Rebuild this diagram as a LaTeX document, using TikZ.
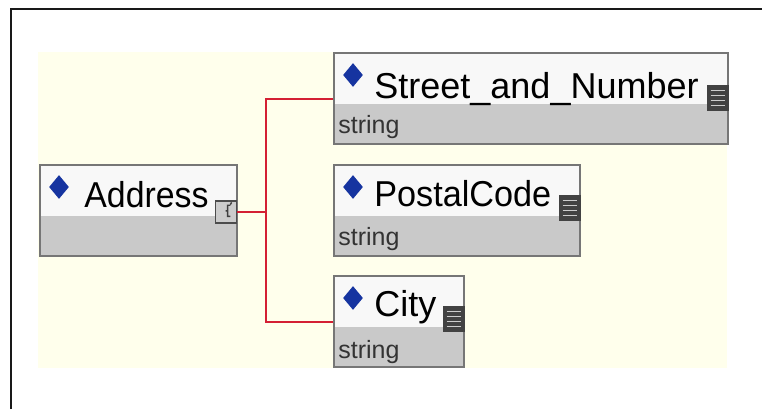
\documentclass[tikz,border=0pt]{standalone}
\usepackage{fontspec}
\setmainfont{Liberation Sans}
\usetikzlibrary{shapes.geometric,positioning}

\definecolor{xmlcream}{RGB}{255,255,236}
\definecolor{xmltop}{RGB}{248,248,248}
\definecolor{xmltype}{RGB}{201,201,201}
\definecolor{xmlborder}{RGB}{118,118,118}
\definecolor{xmlgem}{RGB}{22,52,160}
\definecolor{xmldoc}{RGB}{66,66,66}
\definecolor{xmllink}{RGB}{212,32,52}

\begin{document}
\begin{tikzpicture}[x=0.5pt, y=-0.5pt,
    element/.style={rectangle, draw=xmlborder, line width=1pt, fill=xmltop, minimum height=45.5pt, inner sep=0pt, anchor=north west,
        path picture={\fill[xmltype] ([yshift=20pt]path picture bounding box.south west) rectangle (path picture bounding box.south east);}},
    elemname/.style={anchor=base west, inner sep=0pt, font=\fontsize{18}{20}\selectfont},
    typename/.style={anchor=base west, inner sep=0pt, text=black!80, font=\fontsize{12.5}{14}\selectfont},
    gem/.style={diamond, fill=xmlgem, minimum width=10pt, minimum height=12pt, inner sep=0pt},
    docicon/.style={rectangle, fill=xmldoc, minimum width=11pt, minimum height=13pt, inner sep=0pt,
        path picture={\foreach \k in {1,...,4} \draw[white!80!black, line width=0.6pt] ([shift={(1.8pt,-\k*2.6pt)}]path picture bounding box.north west) -- ++(7.4pt,0);}},
    seqicon/.style={rectangle, draw=black!70, line width=0.6pt, fill=black!20, minimum width=10.5pt, minimum height=11pt, inner sep=0pt},
    link/.style={draw=xmllink, line width=1pt},
    frameline/.style={draw=black!90, line width=1pt}
]
    \useasboundingbox (0,0) rectangle (762,409);

    % Frame and background
    \draw[frameline] (11,409) -- (11,9) -- (762,9);
    \fill[xmlcream] (38,52) rectangle (727,368);

    % Parent element
    \node[element, minimum width=98.5pt] (addr) at (39,164) {};
    \node[gem] (addrgem) at ([shift={(10pt,-11.5pt)}]addr.north west) {};
    \node[elemname] (addrname) at ([shift={(22.5pt,-21.5pt)}]addr.north west) {\scalebox{0.94}[1]{Address}};
    \node[seqicon] (addricon) at ([shift={(-6pt,-24pt)}]addr.north east) {};
    \draw[black!75, line width=0.7pt] ([shift={(2.2pt,-2.2pt)}]addricon.center) -- ++(-1.4pt,0) -- ++(0,2.8pt) -- ++(-1pt,0) ++(1pt,0) -- ++(0,2.8pt) -- ++(1.4pt,0) ++(0,0.4pt) -- ++(0.6pt,1pt);

    % Child elements
    \node[element, minimum width=197pt] (street) at (333,52) {};
    \node[gem] (streetgem) at ([shift={(10pt,-11.5pt)}]street.north west) {};
    \node[elemname] (streetname) at ([shift={(20.5pt,-23pt)}]street.north west) {Street\_and\_Number};
    \node[docicon] (streetdoc) at ([shift={(-5.5pt,-23pt)}]street.north east) {};
    \node[typename] (streettype) at ([shift={(2.5pt,-40.5pt)}]street.north west) {string};

    \node[element, minimum width=123pt] (postal) at (333,164) {};
    \node[gem] (postalgem) at ([shift={(10pt,-11.5pt)}]postal.north west) {};
    \node[elemname] (postalname) at ([shift={(20.5pt,-21pt)}]postal.north west) {\scalebox{0.95}[1]{PostalCode}};
    \node[docicon] (postaldoc) at ([shift={(-5.5pt,-22pt)}]postal.north east) {};
    \node[typename] (postaltype) at ([shift={(2.5pt,-40.5pt)}]postal.north west) {string};

    \node[element, minimum width=65pt] (city) at (333,275) {};
    \node[gem] (citygem) at ([shift={(10pt,-11.5pt)}]city.north west) {};
    \node[elemname] (cityname) at ([shift={(20.5pt,-20.5pt)}]city.north west) {City};
    \node[docicon] (citydoc) at ([shift={(-5.5pt,-22pt)}]city.north east) {};
    \node[typename] (citytype) at ([shift={(2.5pt,-41.5pt)}]city.north west) {string};

    % Connectors
    \path (addricon.east) -- ++(14.25pt,0) coordinate (fork);
    \draw[link] (addricon.east) -- (fork);
    \draw[link] (fork) |- (street.west);
    \draw[link] (fork) |- (city.west);
\end{tikzpicture}
\end{document}
